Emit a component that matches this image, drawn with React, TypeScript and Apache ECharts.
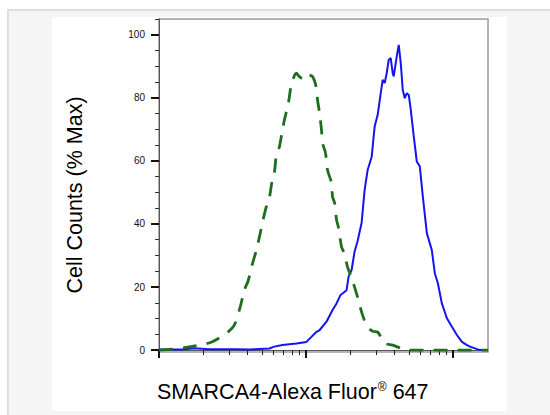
import React, { useEffect, useRef } from "react";
import * as echarts from "echarts";

// Isotype control (green dashed)
const xGreen = [10, 11.7, 16.0, 22.6, 29.5, 32.5, 35.7, 38.0, 40.4, 43.1, 45.9, 48.8, 50.4, 53.6, 56.2, 58.9, 60.8, 62.8, 65.8, 69.0, 71.2, 75.8, 79.4, 85.9, 90.0, 95.9, 100.5, 110.5, 117.6, 119.5, 123.3, 127.2, 129.2, 135.5, 139.8, 148.8, 151.2, 156.1, 161.0, 166.2, 174.2, 182.6, 191.3, 203.8, 223.9, 242.2, 261.9, 283.4, 306.5, 342.1, 387.8, 490.9, 592.8, 726.6, 905.4, 1164, 1723];
const yGreen = [0, 0.2, 1, 2.5, 5.8, 7.9, 13.8, 19, 22, 27.3, 31.7, 37.1, 40.3, 45.4, 48.2, 54, 56.2, 61.9, 64.4, 69.8, 73, 78.4, 84.1, 87.8, 86.7, 86, 87.3, 86.7, 83, 79.4, 75.2, 69.8, 65.7, 62.5, 57.1, 53, 48.6, 46.7, 41.3, 38.7, 32.7, 30.5, 26.3, 22.9, 16.8, 11, 7.3, 6, 5.7, 2.2, 1.6, 0, 0, 0, 0, 0, 0];

// SMARCA4 stained (blue solid)
const xBlue = [10, 14.35, 17.3, 21.9, 32.5, 41.1, 56.2, 60.8, 69.0, 85.9, 100.5, 108.7, 117.6, 123.3, 137.6, 151.2, 161.0, 171.5, 188.4, 194.4, 203.8, 213.6, 223.9, 238.4, 249.9, 261.9, 279.0, 292.3, 306.5, 326.4, 331.6, 342.1, 353.0, 364.3, 375.8, 387.8, 393.9, 413.0, 426.2, 439.8, 453.9, 468.4, 483.3, 498.7, 514.6, 539.4, 565.4, 592.8, 621.3, 661.6, 715.3, 749.9, 786.2, 837.0, 905.4, 979.3, 1059, 1146, 1240, 1299, 1520, 1723];
const yBlue = [0.2, 0.2, 0.6, 0.3, 0.3, 0.2, 0.5, 1.1, 1.6, 2.1, 2.6, 4.2, 5.8, 6.3, 9.0, 12.7, 14.8, 17.5, 19, 23.3, 25.4, 31.3, 34.6, 40.4, 50.8, 57.1, 61.3, 70.9, 74.6, 83.6, 85.7, 84.7, 87.8, 92.1, 92.6, 87.8, 86.8, 93.1, 96.8, 91, 82.5, 79.9, 81.5, 80.9, 76.2, 67.7, 59.8, 58.2, 48.7, 37.1, 31.7, 24.3, 21.2, 14.8, 10.1, 7.4, 4.8, 2.6, 1.6, 1.1, 0, 0];

const yMajorTicks = [0, 20, 40, 60, 80, 100];
const yMinorTicks = [5, 10, 15, 25, 30, 35, 45, 50, 55, 65, 70, 75, 85, 90, 95, 105];
const xMajorTicks = [10, 100, 1000];
const xMinorTicks = [20, 30, 40, 50, 60, 70, 80, 90, 200, 300, 400, 500, 600, 700, 800, 900];

const X_MIN = 10;
const X_MAX = 1723;
const Y_MIN = -0.6;
const Y_MAX = 105;

const FONT = "'Liberation Sans', Arial, sans-serif";

export default function App() {
  const ref = useRef<HTMLDivElement>(null);

  useEffect(() => {
    if (!ref.current) return;
    const chart = echarts.init(ref.current, undefined, { renderer: "svg" });
    const pair = (xs: number[], ys: number[]) => xs.map((x, i) => [x, ys[i]]);

    chart.setOption({
      animation: false,
      backgroundColor: "#ffffff",
      grid: {
        left: 159,
        top: 19,
        right: 62,
        bottom: 63,
        show: true,
        borderColor: "#9a9a9a",
        borderWidth: 1.5,
        backgroundColor: "transparent",
      },
      xAxis: [
        {
          type: "log",
          logBase: 10,
          min: X_MIN,
          max: X_MAX,
          position: "bottom",
          axisLine: { show: true, lineStyle: { color: "#555", width: 1 } },
          axisTick: {
            show: true,
            customValues: xMajorTicks,
            length: 8,
            lineStyle: { color: "#111", width: 2 },
          },
          axisLabel: { show: false },
          splitLine: { show: false },
          minorTick: { show: false },
        },
        {
          type: "log",
          logBase: 10,
          min: X_MIN,
          max: X_MAX,
          position: "bottom",
          axisLine: { show: false },
          axisTick: {
            show: true,
            customValues: xMinorTicks,
            length: 5,
            lineStyle: { color: "#222", width: 1 },
          },
          axisLabel: { show: false },
          splitLine: { show: false },
        },
      ],
      yAxis: [
        {
          type: "value",
          min: Y_MIN,
          max: Y_MAX,
          axisLine: { show: true, lineStyle: { color: "#555", width: 1 } },
          axisTick: {
            show: true,
            customValues: yMajorTicks,
            length: 8,
            lineStyle: { color: "#111", width: 2 },
          },
          axisLabel: {
            show: true,
            customValues: yMajorTicks,
            margin: 14,
            fontSize: 10,
            fontFamily: FONT,
            color: "#111",
          },
          splitLine: { show: false },
        },
        {
          type: "value",
          min: Y_MIN,
          max: Y_MAX,
          position: "left",
          axisLine: { show: false },
          axisTick: {
            show: true,
            customValues: yMinorTicks,
            length: 4,
            lineStyle: { color: "#333", width: 1 },
          },
          axisLabel: { show: false },
          splitLine: { show: false },
        },
      ],
      graphic: [
        { type: "rect", z: -100, silent: true, shape: { x: 7, y: 9, width: 543, height: 406 }, style: { fill: "#dedede" } },
        { type: "rect", z: -99, silent: true, shape: { x: 9, y: 11, width: 541, height: 404 }, style: { fill: "#f5f5f5" } },
        { type: "rect", z: -98, silent: true, shape: { x: 52, y: 17, width: 455, height: 394 }, style: { fill: "#ffffff" } },
        {
          type: "text",
          x: 75,
          y: 195,
          rotation: Math.PI / 2,
          style: {
            text: "Cell Counts (% Max)",
            fontSize: 21.5,
            fontFamily: FONT,
            fill: "#000",
            align: "center",
            verticalAlign: "middle",
          },
        },
        {
          type: "text",
          x: 157,
          y: 392,
          style: {
            text: "{a|SMARCA4-Alexa Fluor}{b|®}{a| 647}",
            align: "left",
            verticalAlign: "middle",
            rich: {
              a: { fontSize: 21.5, fontFamily: FONT, fill: "#000", color: "#000" },
              b: { fontSize: 12, fontFamily: FONT, fill: "#000", color: "#000", verticalAlign: "top", padding: [0, 0, 6, 1] },
            },
          },
        },
      ],
      series: [
        {
          type: "line",
          name: "SMARCA4",
          xAxisIndex: 0,
          yAxisIndex: 0,
          data: pair(xBlue, yBlue),
          showSymbol: false,
          smooth: false,
          lineStyle: { color: "#1414f0", width: 2 },
          z: 3,
        },
        {
          type: "line",
          name: "Isotype",
          xAxisIndex: 0,
          yAxisIndex: 0,
          data: pair(xGreen, yGreen),
          showSymbol: false,
          smooth: 0.3,
          lineStyle: { color: "#1e6e1e", width: 2.8, type: [14, 10] },
          z: 4,
        },
      ],
    });

    return () => chart.dispose();
  }, []);

  return (
    <div
      ref={ref}
      style={{ position: "fixed", left: 0, top: 0, width: 550, height: 415 }}
    />
  );
}
